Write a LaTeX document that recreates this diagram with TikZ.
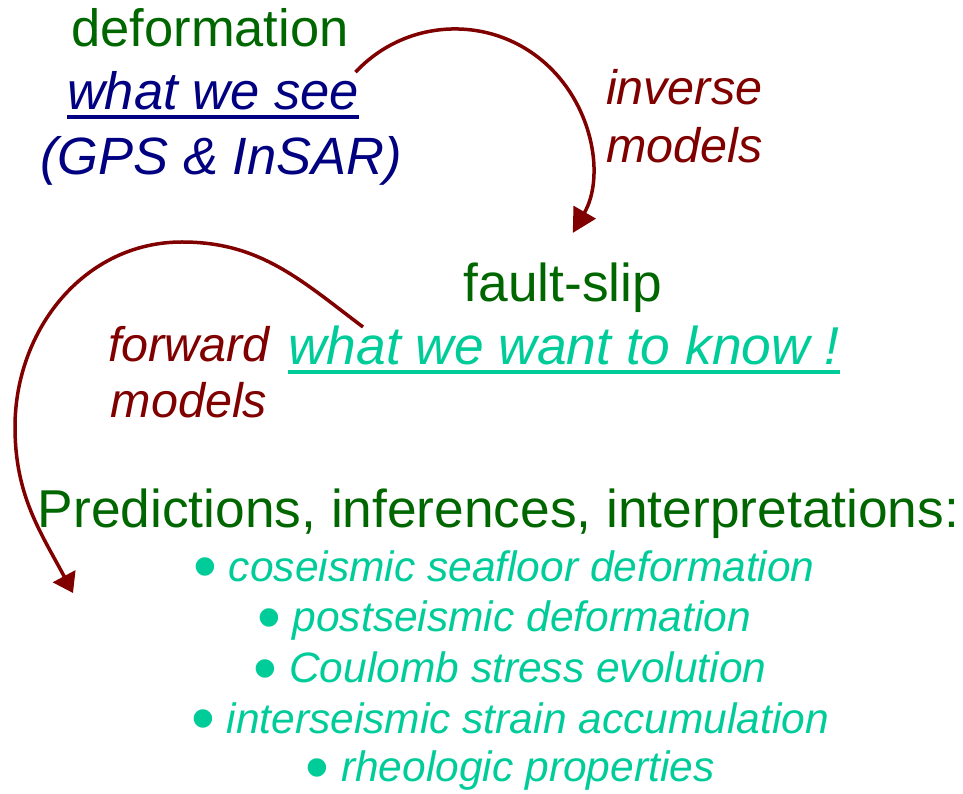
\documentclass[tikz,border=0pt]{standalone}
\usepackage{fontspec}
\setmainfont{Liberation Sans}
\usepackage{graphicx}
\usetikzlibrary{arrows.meta}
\definecolor{dgreen}{RGB}{0,102,0}
\definecolor{navyc}{RGB}{0,0,128}
\definecolor{maroonc}{RGB}{128,0,0}
\definecolor{tealc}{RGB}{0,204,153}
\newcommand{\blt}{{\upshape\smash{\raisebox{-8.5pt}{\scalebox{1.6}{•}}}}}
\begin{document}
\begin{tikzpicture}[x=1pt,y=1pt,
  every node/.style={inner sep=0pt, outer sep=0pt},
  bigtxt/.style={font=\fontsize{52.5}{63}\selectfont},
  bigit/.style={font=\fontsize{52.5}{63}\selectfont\itshape},
  hugetxt/.style={font=\fontsize{53.3}{64}\selectfont},
  hugeit/.style={font=\fontsize{53.3}{64}\selectfont\itshape},
  lbl/.style={font=\fontsize{48.5}{58}\selectfont\itshape, text=maroonc},
  item/.style={font=\fontsize{42.5}{51}\selectfont\itshape, text=tealc, anchor=base},
  arr/.style={draw=maroonc, line width=3.5pt}]
\useasboundingbox (0,0) rectangle (963,793);
% top block
\node[bigtxt, text=dgreen, anchor=base] (def) at (210,746) {deformation};
\node[bigit, text=navyc, anchor=base] (see) at (213,683) {what we see};
\node[bigit, text=navyc, anchor=base] (gps) at (221,618) {(GPS \& InSAR)};
\draw[navyc, line width=3.5pt] ([yshift=-7pt]see.base west) -- ([yshift=-7pt]see.base east);
% inverse label
\node[lbl, anchor=base west] (inv) at (606,688) {inverse};
\node[lbl, anchor=base west] (invm) at (606,630) {models};
% fault slip
\node[hugetxt, text=dgreen, anchor=base] (fs) at (563,491) {fault-slip};
\node[hugeit, text=tealc, anchor=base] (want) at (564,428) {what we want to know !};
\draw[tealc, line width=3.5pt] ([yshift=-7pt]want.base west) -- ([yshift=-7pt]want.base east);
% forward label
\node[lbl, anchor=base] (fwd) at (189,431) {forward};
\node[lbl, anchor=base] (fwdm) at (189,375) {models};
% predictions
\node[hugetxt, text=dgreen, anchor=base] (pred) at (498.5,266) {Predictions, inferences, interpretations:};
\node[item] (i1) at (504,212) {\blt\ coseismic seafloor deformation};
\node[item] (i2) at (504,161.5) {\blt\ postseismic deformation};
\node[item] (i3) at (510,110.5) {\blt\ Coulomb stress evolution};
\node[item] (i4) at (510,60) {\blt\ interseismic strain accumulation};
\node[item] (i5) at (510,11.5) {\blt\ rheologic properties};
% arrows
\coordinate (a1s) at (355.5,720.8);
\draw[arr, -{Triangle[length=24pt,width=25pt]}] (a1s) arc[start angle=137, end angle=-30, radius=136];
\coordinate (a2s) at (363,466);
\coordinate (a2t) at (182,551);
\coordinate (a2l) at (15,366);
\coordinate (a2e) at (73,200);
\draw[arr, -{Triangle[length=19pt,width=25pt]}] (a2s) to[out=143,in=0] (a2t) to[out=180,in=90] (a2l) to[out=270,in=118] (a2e);
\end{tikzpicture}
\end{document}
